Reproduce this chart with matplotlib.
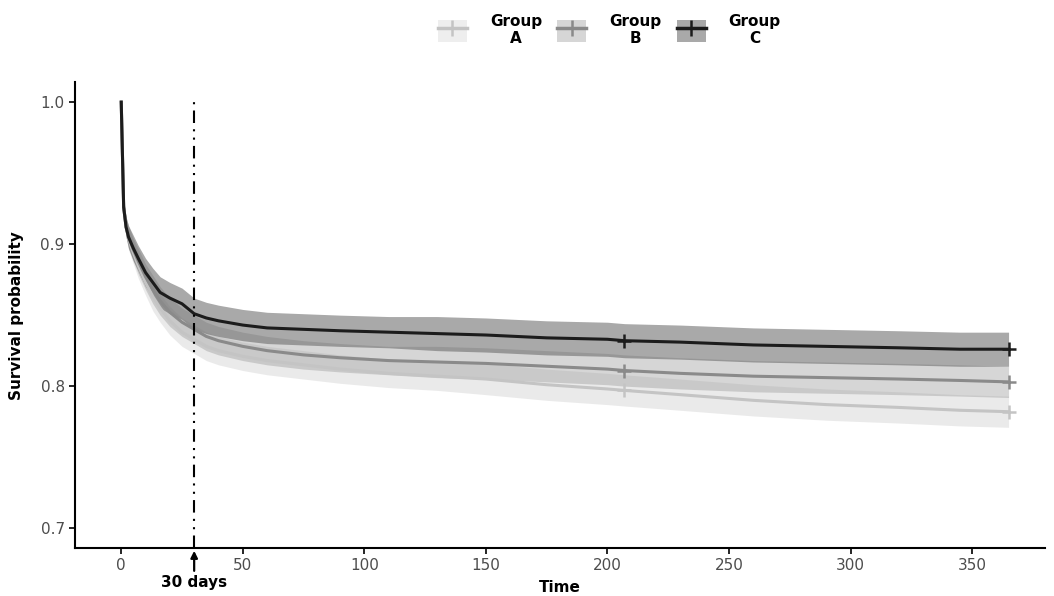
"""
Kaplan-Meier style survival curves for three groups with confidence bands.
"""

import matplotlib
matplotlib.use("Agg")
import matplotlib.pyplot as plt
from matplotlib.patches import Patch
from matplotlib.lines import Line2D
from matplotlib.legend_handler import HandlerTuple

# ---------------------------------------------------------------------------
# Data
# ---------------------------------------------------------------------------
times = [0, 0.5, 1, 2, 3, 5, 7, 10, 13, 16, 20, 25, 30, 35, 40, 50, 60, 75,
         90, 110, 130, 150, 175, 200, 207, 230, 260, 290, 320, 345, 365]

surv_a = [1.0, 0.963, 0.926, 0.912, 0.904, 0.894, 0.885, 0.873, 0.863, 0.855,
          0.846, 0.838, 0.833, 0.828, 0.825, 0.821, 0.818, 0.815, 0.812, 0.809,
          0.807, 0.805, 0.801, 0.798, 0.797, 0.794, 0.790, 0.787, 0.785, 0.783,
          0.782]
surv_b = [1.0, 0.963, 0.926, 0.912, 0.905, 0.896, 0.888, 0.877, 0.868, 0.860,
          0.852, 0.845, 0.840, 0.835, 0.832, 0.828, 0.825, 0.822, 0.820, 0.818,
          0.817, 0.816, 0.814, 0.812, 0.811, 0.809, 0.807, 0.806, 0.805, 0.804,
          0.803]
surv_c = [1.0, 0.963, 0.926, 0.912, 0.905, 0.897, 0.890, 0.880, 0.873, 0.866,
          0.862, 0.858, 0.851, 0.848, 0.846, 0.843, 0.841, 0.840, 0.839, 0.838,
          0.837, 0.836, 0.834, 0.833, 0.832, 0.831, 0.829, 0.828, 0.827, 0.826,
          0.826]

# half-width of the confidence band
ci_a = [0.0, 0.004, 0.006, 0.007, 0.008, 0.008, 0.009, 0.009, 0.010, 0.010,
        0.010, 0.010, 0.010, 0.010, 0.010, 0.010, 0.010, 0.010, 0.010, 0.010,
        0.010, 0.011, 0.011, 0.011, 0.011, 0.011, 0.011, 0.011, 0.011, 0.011,
        0.011]
ci_b = [0.0, 0.004, 0.006, 0.007, 0.008, 0.008, 0.009, 0.009, 0.010, 0.010,
        0.010, 0.010, 0.010, 0.010, 0.010, 0.010, 0.010, 0.010, 0.010, 0.010,
        0.011, 0.011, 0.011, 0.011, 0.011, 0.011, 0.011, 0.011, 0.011, 0.011,
        0.011]
ci_c = [0.0, 0.004, 0.006, 0.007, 0.008, 0.009, 0.009, 0.010, 0.010, 0.011,
        0.011, 0.011, 0.011, 0.011, 0.011, 0.011, 0.011, 0.011, 0.011, 0.011,
        0.012, 0.012, 0.012, 0.012, 0.012, 0.012, 0.012, 0.012, 0.012, 0.012,
        0.012]

censor_times = [207, 365]
group_labels = ["Group\nA", "Group\nB", "Group\nC"]
x_ticks = [0, 50, 100, 150, 200, 250, 300, 350]
y_ticks = [0.7, 0.8, 0.9, 1.0]
cutoff_day = 30

# ---------------------------------------------------------------------------
# Figure
# ---------------------------------------------------------------------------
fig = plt.figure(figsize=(10.54, 5.96), dpi=100)
ax = fig.add_axes([0.0712, 0.0805, 0.9203, 0.7815])

styles = [
    # line colour, band colour, band alpha, legend box colour
    ("#c4c4c4", "#bbbbbb", 0.30, "#eeeeee"),
    ("#8a8a8a", "#999999", 0.40, "#d6d6d6"),
    ("#1c1c1c", "#666666", 0.56, "#a9a9a9"),
]
series = [(surv_a, ci_a), (surv_b, ci_b), (surv_c, ci_c)]

handles = []
for (surv, ci), (lc, bc, ba, lgc) in zip(series, styles):
    lo = [s - h for s, h in zip(surv, ci)]
    hi = [s + h for s, h in zip(surv, ci)]
    ax.fill_between(times, lo, hi, color=bc, alpha=ba, linewidth=0)
    ax.plot(times, surv, color=lc, linewidth=2.2)
    # censor marks
    cs = [surv[times.index(t)] for t in censor_times]
    ax.plot(censor_times, cs, linestyle="none", marker="+", markersize=10,
            markeredgewidth=1.8, color=lc)
    handles.append((Patch(facecolor=lgc, edgecolor="none"),
                    Line2D([], [], color=lc, linewidth=2.5, marker="+",
                           markersize=11, markeredgewidth=1.8)))

# 30 day marker
ax.axvline(cutoff_day, ymax=(1.0 - 0.686) / (1.014 - 0.686) + 0.01,
           color="black", linewidth=1.5, linestyle=(0, (6, 3, 1, 3, 1, 3)))
ax.annotate("", xy=(cutoff_day, 0.686), xycoords="data",
            xytext=(cutoff_day, -0.055), textcoords=("data", "axes fraction"),
            arrowprops=dict(arrowstyle="-|>", color="black", lw=1.6,
                            mutation_scale=10),
            annotation_clip=False)
ax.text(cutoff_day, -0.058, "30 days", transform=ax.get_xaxis_transform(),
        ha="center", va="top", fontsize=11, fontweight="bold")

ax.set_xlim(-19, 380)
ax.set_ylim(0.686, 1.014)
ax.set_xticks(x_ticks)
ax.set_yticks(y_ticks)
ax.set_yticklabels([f"{v:.1f}" for v in y_ticks])
ax.tick_params(colors="#4d4d4d", labelsize=11, width=1.2, length=4)
ax.tick_params(axis="both", color="black")
ax.spines["top"].set_visible(False)
ax.spines["right"].set_visible(False)
ax.spines["left"].set_linewidth(1.5)
ax.spines["bottom"].set_linewidth(1.5)

ax.set_xlabel("Time", fontsize=11, fontweight="bold", labelpad=5)
ax.set_ylabel("Survival probability", fontsize=11, fontweight="bold",
              labelpad=12)

leg = fig.legend(handles, group_labels, loc="upper center",
                 bbox_to_anchor=(0.578, 1.0), ncol=3, frameon=False,
                 handler_map={tuple: HandlerTuple(ndivide=1, pad=0)},
                 handlelength=1.9, handleheight=1.9, handletextpad=1.5,
                 columnspacing=1.0,
                 prop={"weight": "bold", "size": 11})
for t in leg.get_texts():
    t.set_multialignment("center")

fig.savefig("out.png", dpi=100)
